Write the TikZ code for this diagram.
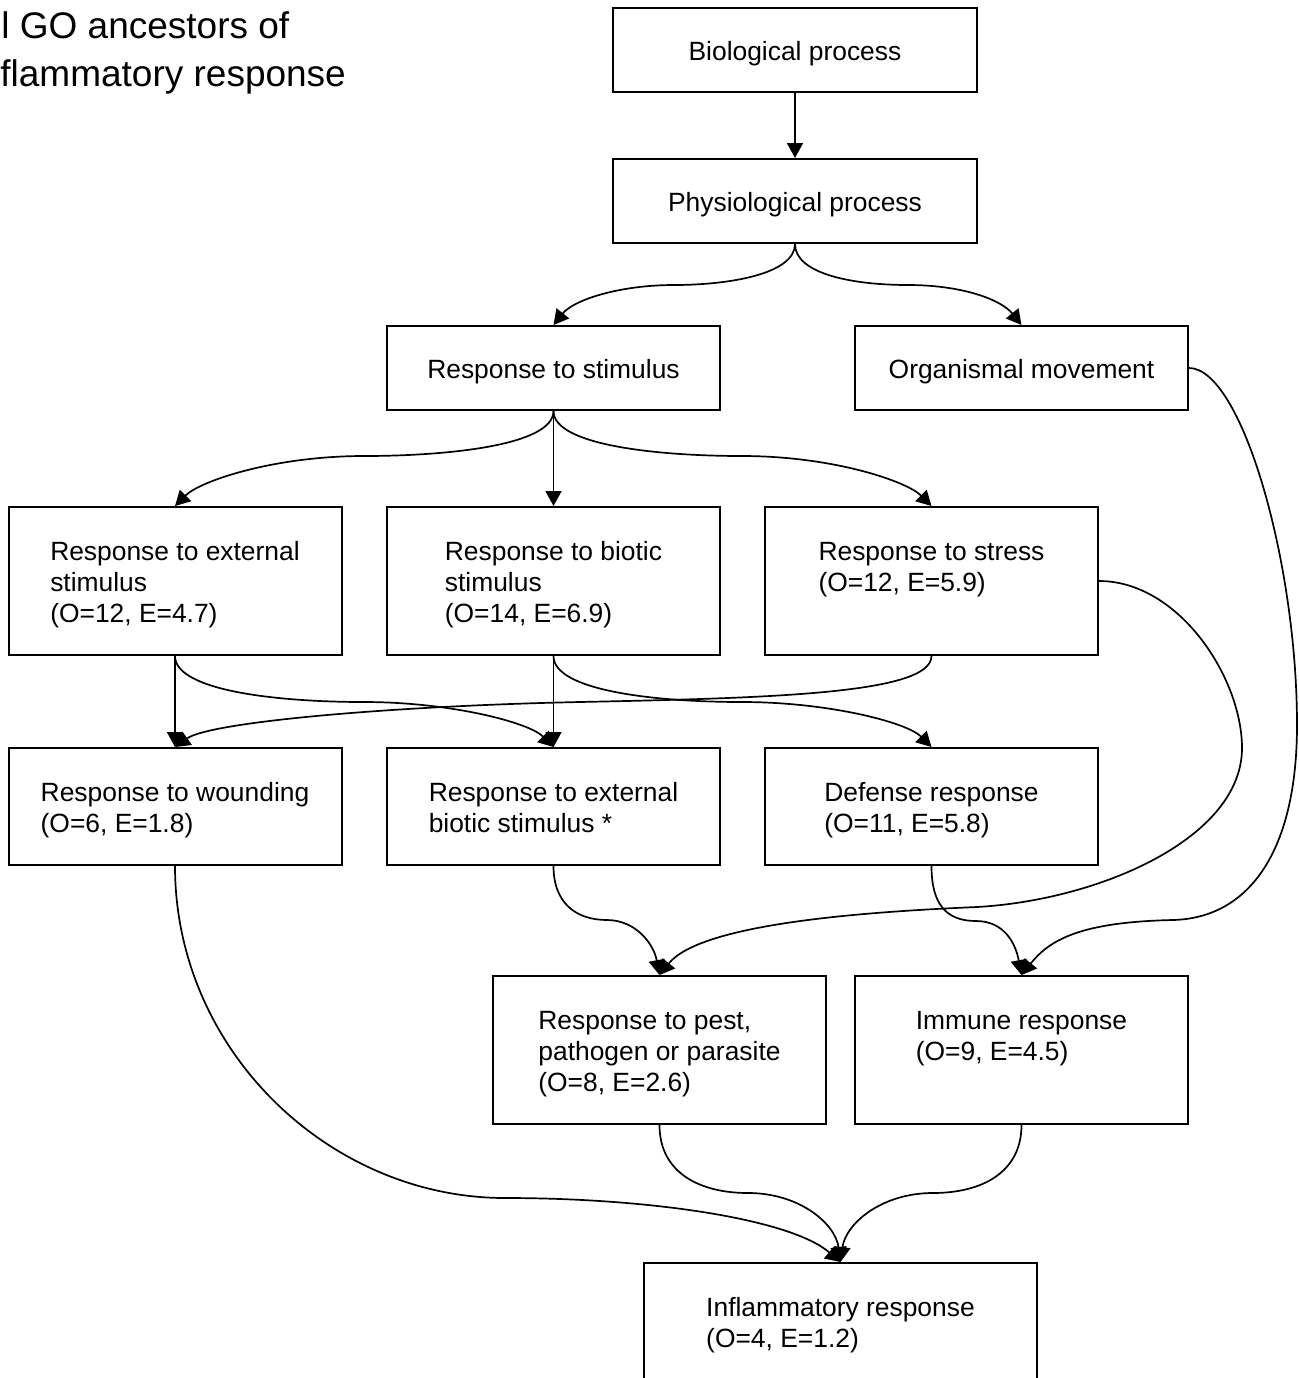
\documentclass[tikz,border=0pt]{standalone}
\usepackage{fontspec}
\setmainfont{Liberation Sans}
\usetikzlibrary{arrows.meta}
\newcommand{\mytop}{\rule{0pt}{13.5pt}}
\newcommand{\mybot}{\rule[-3.5pt]{0pt}{3.5pt}}
\begin{document}
\begin{tikzpicture}[x=0.5pt,y=-0.5pt,
  box/.style={draw, line width=1pt, align=left, inner sep=0pt,
    font=\fontsize{13.2pt}{15.5pt}\selectfont},
  widebox/.style={box, minimum width=182pt, minimum height=42pt},
  lowbox/.style={box, minimum width=166.5pt, minimum height=42pt},
  tallbox/.style={box, minimum width=166.5pt, minimum height=74pt},
  midbox/.style={box, minimum width=166.5pt, minimum height=58.5pt},
  endbox/.style={box, minimum width=196.5pt, minimum height=58.5pt},
  titletext/.style={inner sep=0pt, anchor=base west, font=\fontsize{18.5pt}{24pt}\selectfont},
  arr/.style={line width=0.85pt, -{Triangle[length=7.5pt,width=8pt]}},
]
\useasboundingbox (0,0) rectangle (1298,1378);
\clip (0,0) rectangle (1298,1378);

% title (cut at the left edge)
\node[titletext] (t1) at (1,38) {l GO ancestors of};
\node[titletext] (t2) at (0,86) {flammatory response};

% boxes
\node[widebox] (bio) at (795,50) {\mytop Biological process\mybot};
\node[widebox] (phys) at (795,201) {\mytop Physiological process\mybot};
\node[lowbox] (rs) at (553.5,368) {\mytop Response to stimulus\mybot};
\node[lowbox] (org) at (1021.5,368) {\mytop Organismal movement\mybot};
\node[tallbox] (ext) at (175,581) {\mytop Response to external\\stimulus\\(O=12, E=4.7)\mybot};
\node[tallbox] (biotic) at (553.5,581) {\mytop Response to biotic\\stimulus\\(O=14, E=6.9)\mybot};
\node[tallbox] (stress) at (931.5,581) {\mytop Response to stress\\(O=12, E=5.9)\\\mybot};
\node[midbox] (wound) at (175,806.5) {\mytop Response to wounding\\(O=6, E=1.8)\mybot};
\node[midbox] (extbio) at (553.5,806.5) {\mytop Response to external\\biotic stimulus *\mybot};
\node[midbox] (defense) at (931.5,806.5) {\mytop Defense response\\(O=11, E=5.8)\mybot};
\node[tallbox] (pest) at (659.5,1050) {\mytop Response to pest,\\pathogen or parasite\\(O=8, E=2.6)\mybot};
\node[tallbox] (immune) at (1021.5,1050) {\mytop Immune response\\(O=9, E=4.5)\\\mybot};
\node[endbox] (inflam) at (840.5,1321.5) {\mytop Inflammatory response\\(O=4, E=1.2)\mybot};

% connectors
\draw[arr] (bio.south) -- (phys.north);
\draw[arr] (phys.south) .. controls +(0,30) and +(55,0) .. (674,285)
  .. controls +(-55,0) and +(20,-25) .. (rs.north);
\draw[arr] (phys.south) .. controls +(0,30) and +(-55,0) .. (908,285)
  .. controls +(55,0) and +(-20,-25) .. (org.north);
\draw[arr] (rs.south) .. controls +(0,35) and +(80,0) .. (364,456)
  .. controls +(-90,0) and +(25,-25) .. (ext.north);
\draw[arr] (rs.south) -- (biotic.north);
\draw[arr] (rs.south) .. controls +(0,35) and +(-80,0) .. (742,456)
  .. controls +(90,0) and +(-25,-25) .. (stress.north);
\draw[arr] (ext.south) -- (wound.north);
\draw[arr] (ext.south) .. controls +(0,35) and +(-85,0) .. (364,702)
  .. controls +(85,0) and +(-25,-25) .. (extbio.north);
\draw[arr] (biotic.south) -- (extbio.north);
\draw[arr] (biotic.south) .. controls +(0,35) and +(-85,0) .. (742,702)
  .. controls +(85,0) and +(-25,-25) .. (defense.north);
\draw[arr] (stress.south) .. controls +(0,38) and +(190,-4) .. (580,702)
  .. controls +(-190,4) and +(35,-25) .. (wound.north);
\draw[arr] (stress.east) .. controls +(80,0) and +(0,-70) .. (1242,748)
  .. controls +(0,90) and +(123,-7) .. (977,907)
  .. controls +(-117,5) and +(41,-51) .. (pest.north);
\draw[arr] (org.east) .. controls +(52,0) and +(0,-165) .. (1297,725)
  .. controls +(0,125) and +(77,-2) .. (1173,920)
  .. controls +(-93,2) and +(28,-35) .. (immune.north);
\draw[arr] (wound.south) .. controls +(0,185) and +(-175,0) .. (505,1198)
  .. controls +(145,0) and +(-50,-43) .. (inflam.north);
\draw[arr] (extbio.south) .. controls +(0,38) and +(-30,0) .. (607,920)
  .. controls +(28,0) and +(-6,-32) .. (pest.north);
\draw[arr] (defense.south) .. controls +(0,38) and +(-30,0) .. (976,921)
  .. controls +(28,0) and +(-6,-32) .. (immune.north);
\draw[arr] (pest.south) .. controls +(0,48) and +(-48,0) .. (748,1193)
  .. controls +(52,0) and +(-5,-38) .. (inflam.north);
\draw[arr] (immune.south) .. controls +(0,48) and +(48,0) .. (933,1193)
  .. controls +(-52,0) and +(5,-38) .. (inflam.north);
\end{tikzpicture}
\end{document}
